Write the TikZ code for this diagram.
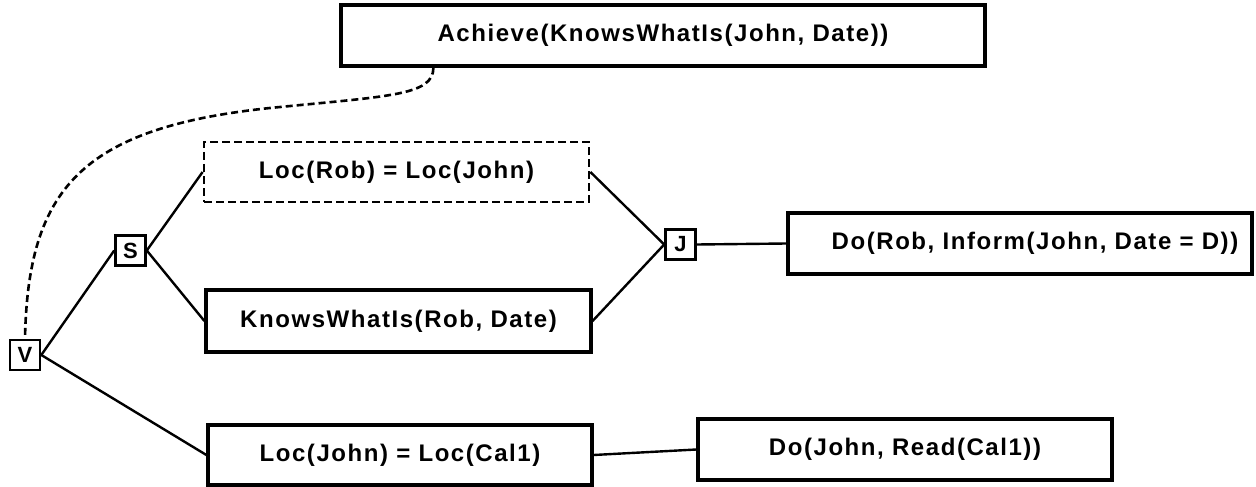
\documentclass[tikz,border=0pt]{standalone}
\usepackage{fontspec}
\setmainfont{Liberation Sans}[LetterSpace=6.5, UprightFont=* Bold]
\begin{document}
\begin{tikzpicture}[x=1pt,y=-1pt,
  box/.style={draw, line width=3.2pt, rectangle, inner sep=0pt, font=\fontsize{24}{28}\selectfont},
  dbox/.style={box, line width=2.8pt, dash pattern=on 8pt off 4pt},
  op/.style={draw, line width=2.6pt, rectangle, inner sep=0pt, minimum size=30pt, font=\fontsize{22}{25}\selectfont},
  conn/.style={line width=2.4pt},
  dconn/.style={line width=2.6pt, dash pattern=on 7pt off 4pt}]
\useasboundingbox (0,0) rectangle (1256,487);
\node[box, minimum width=644pt, minimum height=61pt] (ach) at (663,35.5) {Achieve(KnowsWhatIs(John, Date))};
\node[dbox, minimum width=385pt, minimum height=60pt] (locrob) at (396.5,172) {Loc(Rob) = Loc(John)};
\node[box, minimum width=385pt, minimum height=62pt] (kw) at (398.5,321) {KnowsWhatIs(Rob, Date)};
\node[box, minimum width=384pt, minimum height=60pt] (locj) at (400,455) {Loc(John) = Loc(Cal1)};
\node[box, minimum width=464pt, minimum height=61pt] (dorob) at (1020,243.5) {\hspace*{30pt}Do(Rob, Inform(John, Date = D))};
\node[box, minimum width=414pt, minimum height=61pt] (dojohn) at (905,449.5) {Do(John, Read(Cal1))};
\node[op] (S) at (130.5,250.5) {S};
\node[op] (J) at (680.5,244.5) {J};
\node[op] (V) at (25,355) {V};
\coordinate (cs) at ([xshift=94pt]ach.south west);
\draw[dconn] (cs) .. controls +(0,28) and (390,96) .. (270,108) .. controls (80,128) and (28,190) .. (V.north);
\draw[conn] (V.east) -- (S.west);
\draw[conn] (V.east) -- (locj.west);
\draw[conn] (S.east) -- (locrob.west);
\draw[conn] (S.east) -- (kw.west);
\draw[conn] (locrob.east) -- (J.west);
\draw[conn] (kw.east) -- (J.west);
\draw[conn] (J.east) -- (dorob.west);
\draw[conn] (locj.east) -- (dojohn.west);
\end{tikzpicture}
\end{document}
